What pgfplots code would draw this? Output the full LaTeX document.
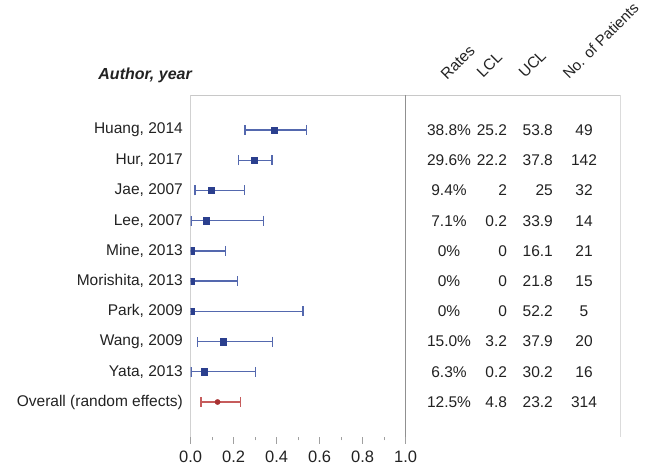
\documentclass[border=0pt]{standalone}
\usepackage{fontspec}
\setmainfont{Liberation Sans}
\usepackage{pgfplots}
\pgfplotsset{compat=1.18}
\definecolor{bluem}{HTML}{2B3F8E}
\definecolor{bluel}{HTML}{5468AE}
\definecolor{redm}{HTML}{A83232}
\definecolor{redl}{HTML}{C65C5C}
\definecolor{boxg}{HTML}{C8C8C8}
\definecolor{axg}{HTML}{A0A0A0}
\definecolor{txt}{HTML}{222222}
\newcommand{\fs}{\fontsize{15.5}{18}\selectfont}
\newcommand{\fst}{\fontsize{16.5}{19}\selectfont}
\begin{document}
\begin{tikzpicture}
\useasboundingbox (-190.7pt,-28pt) rectangle (462.3pt,437pt);
\begin{axis}[
  at={(0pt,0pt)}, anchor=south west,
  scale only axis, width=430pt, height=342pt,
  xmin=0, xmax=2, ymin=-0.158, ymax=11.158,
  axis x line*=bottom, axis y line*=left, axis line style={draw=none},
  xtick={0,0.2,0.4,0.6,0.8,1.0}, minor xtick={0.1,0.3,0.5,0.7,0.9},
  xticklabel style={/pgf/number format/fixed, /pgf/number format/fixed zerofill, /pgf/number format/precision=1, /pgf/number format/assume math mode=true, font=\fst, text=txt, inner sep=0pt, yshift=-6.5pt},
  tick align=outside, major tick length=7pt, minor tick length=3.5pt,
  xtick style={color=axg, line width=0.8pt},
  minor tick style={color=axg, line width=0.8pt},
  xtick pos=bottom, ytick pos=left,
  ytick={1,2,3,4,5,6,7,8,9,10},
  yticklabels={{Overall (random effects)},{Yata, 2013},{Wang, 2009},{Park, 2009},{Morishita, 2013},{Mine, 2013},{Lee, 2007},{Jae, 2007},{Hur, 2017},{Huang, 2014}},
  ytick style={draw=none},
  yticklabel style={font=\fs, text=txt, inner sep=0pt, xshift=-0.7pt},
  clip marker paths=true,
]
\draw[boxg, line width=0.8pt] (axis cs:0,-0.158) rectangle (axis cs:2,11.158);
\draw[axg, line width=0.8pt] (axis cs:0,-0.158) -- (axis cs:0,11.158);
\draw[axg, line width=0.8pt] (axis cs:0,-0.158) -- (axis cs:1,-0.158);
\draw[axg!90!black, line width=0.8pt] (axis cs:1,11.158) -- (axis cs:1,-0.158) -- ++(0pt,-7pt);

\addplot[only marks, mark=square*, color=bluem, mark size=3.2pt,
  error bars/.cd, x dir=both, x explicit,
  error bar style={color=bluel, line width=1.3pt},
  error mark options={color=bluel, mark size=5pt, line width=1.3pt, rotate=90}]
coordinates {
  (0.388,10) += (0.150,0) -= (0.136,0)
  (0.296,9)  += (0.082,0) -= (0.074,0)
  (0.094,8)  += (0.156,0) -= (0.074,0)
  (0.071,7)  += (0.268,0) -= (0.069,0)
  (0.000,6)  += (0.161,0) -= (0.000,0)
  (0.000,5)  += (0.218,0) -= (0.000,0)
  (0.000,4)  += (0.522,0) -= (0.000,0)
  (0.150,3)  += (0.229,0) -= (0.118,0)
  (0.063,2)  += (0.239,0) -= (0.061,0)
};
\addplot[only marks, mark=*, color=redm, mark size=2.6pt,
  error bars/.cd, x dir=both, x explicit,
  error bar style={color=redl, line width=1.3pt},
  error mark options={color=redl, mark size=5pt, line width=1.3pt, rotate=90}]
coordinates {
  (0.125,1) += (0.107,0) -= (0.077,0)
};
\end{axis}
% column headers
\begin{scope}[every node/.style={font=\fs, text=txt, inner sep=0pt}]
\node[anchor=base east, font=\fontsize{16}{19}\selectfont\bfseries\itshape] at (1.3pt,357pt) {Author, year};
\node[anchor=base west, rotate=45] at (256.3pt,356pt) {Rates};
\node[anchor=base west, rotate=45] at (292.3pt,358pt) {LCL};
\node[anchor=base west, rotate=45] at (334.3pt,358pt) {UCL};
\node[anchor=base west, rotate=45, font=\fontsize{15}{18}\selectfont] at (378.3pt,357pt) {No. of Patients};
% table values: Rates (center), LCL (right), UCL (right), Patients (center)
\foreach \y/\r/\l/\u/\n in {307/38.8\%/25.2/53.8/49, 276.8/29.6\%/22.2/37.8/142, 246.6/9.4\%/2/25/32, 216.3/7.1\%/0.2/33.9/14, 186.1/0\%/0/16.1/21, 155.9/0\%/0/21.8/15, 125.7/0\%/0/52.2/5, 95.4/15.0\%/3.2/37.9/20, 65.2/6.3\%/0.2/30.2/16, 35/12.5\%/4.8/23.2/314}{
  \node[anchor=center] at (258.3pt,\y pt) {\r};
  \node[anchor=east] at (316.5pt,\y pt) {\l};
  \node[anchor=east] at (362.3pt,\y pt) {\u};
  \node[anchor=center] at (393.3pt,\y pt) {\n};
}
\end{scope}
\end{tikzpicture}
\end{document}
